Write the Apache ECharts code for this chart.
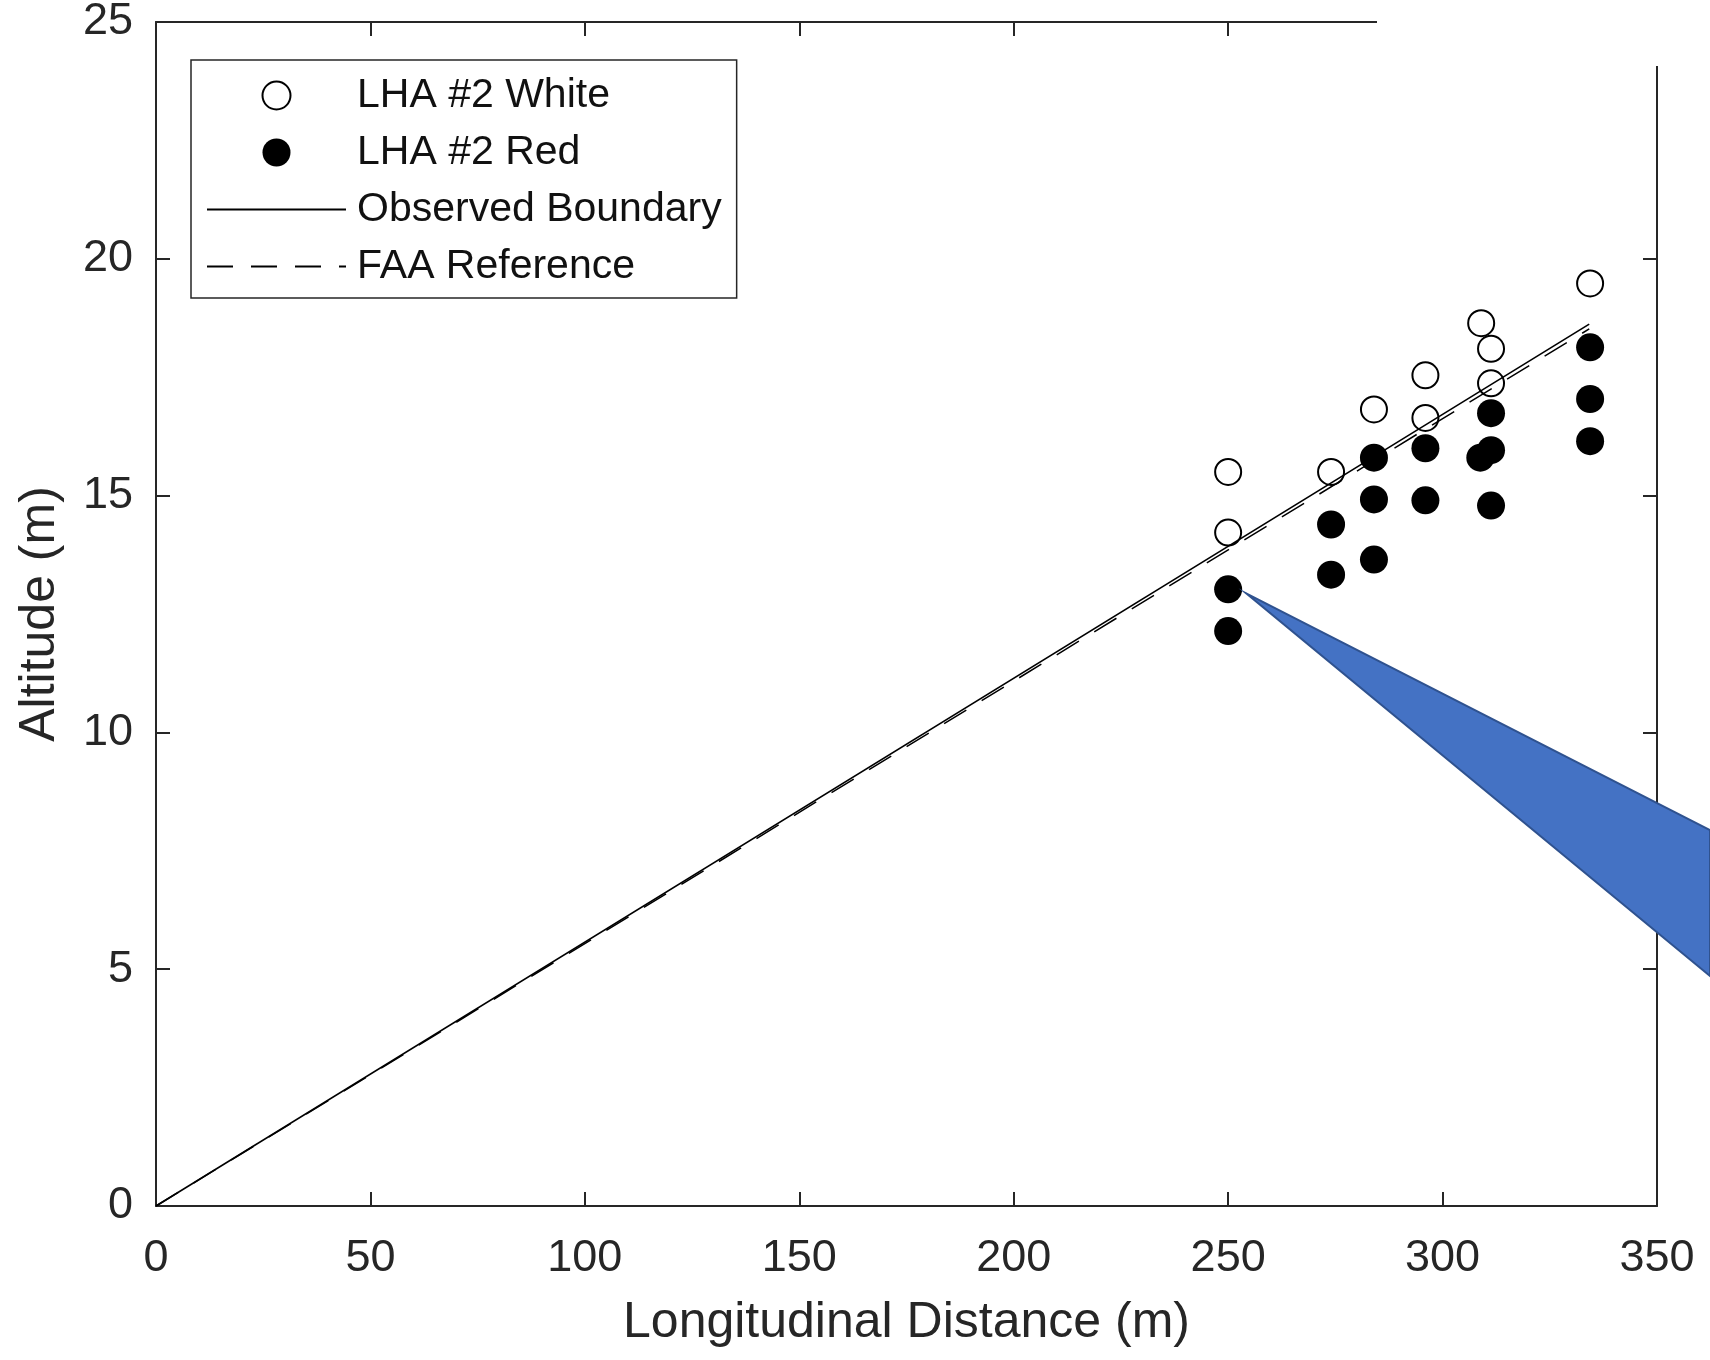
<!DOCTYPE html>
<html>
<head>
<meta charset="utf-8">
<script src="https://cdn.jsdelivr.net/npm/echarts@6/dist/echarts.min.js"></script>
<style>
	html, body { margin: 0; padding: 0; background: #fff; }
	#chart { width: 1710px; height: 1360px; }
</style>
</head>
<body>
<div id="chart"></div>
<script>
var whiteDistance = [250, 250, 274, 284, 296, 296, 309, 311.3, 311.3, 334.4]
var whiteAltitude = [15.5, 14.22, 15.5, 16.82, 17.54, 16.64, 18.64, 18.1, 17.37, 19.48]
var redDistance = [250, 250, 274, 274, 284, 284, 284, 296, 296, 308.8, 311.3, 311.3, 311.3, 334.4, 334.4, 334.4]
var redAltitude = [13.02, 12.14, 14.39, 13.33, 15.8, 14.92, 13.65, 16.0, 14.9, 15.8, 16.74, 15.96, 14.79, 18.13, 17.04, 16.15]

// boundary lines (start and end points)
var boundaryDistance = [0, 334.2]
var observedAltitude = [0, 18.62]
var faaAltitude = [0, 18.52]

var xTicks = { min: 0, max: 350, interval: 50 }
var yTicks = { min: 0, max: 25, interval: 5 }

var FONT = "'Liberation Sans', Arial, Helvetica, sans-serif"
var AXIS_COLOR = '#262626'

function toPairs(xs, ys) {
	var out = []
	for (var i = 0; i < xs.length; i++) out.push([xs[i], ys[i]])
	return out
}

function makeAxis(extra) {
	var base = {
		type: 'value',
		splitLine: { show: false },
		axisLine: { show: true, onZero: false, lineStyle: { color: AXIS_COLOR, width: 2 } },
		axisTick: { show: true, inside: true, length: 14, lineStyle: { color: AXIS_COLOR, width: 2 } },
		axisLabel: { show: false },
	}
	return Object.assign(base, extra)
}

function drawChart(chartDom) {
	var myChart = echarts.init(chartDom)
	// line entries in the legend: no marker, just the stroke
	var noMarker = { opacity: 0, color: 'transparent', borderWidth: 0 }
	var option = {
		animation: false,
		backgroundColor: '#fff',
		grid: { left: 156, right: 53, top: 22, bottom: 154, containLabel: false, outerBoundsMode: 'none' },
		legend: {
			orient: 'vertical',
			left: 191,
			top: 60,
			padding: [15, 15, 11, 15],
			itemGap: 16,
			itemWidth: 139,
			itemHeight: 28,
			backgroundColor: '#fff',
			borderColor: AXIS_COLOR,
			borderWidth: 1.5,
			textStyle: { fontFamily: FONT, fontSize: 41, color: '#111', lineHeight: 40, padding: [0, 0, 0, 6] },
			data: [
				'LHA #2 White',
				'LHA #2 Red',
				{ name: 'Observed Boundary', itemStyle: noMarker },
				{ name: 'FAA Reference', itemStyle: noMarker },
			],
		},
		xAxis: [
			makeAxis(Object.assign({
				position: 'bottom',
				name: 'Longitudinal Distance (m)',
				nameLocation: 'middle',
				nameGap: 92,
				nameTextStyle: { fontFamily: FONT, fontSize: 50, color: AXIS_COLOR, lineHeight: 50 },
				axisLabel: { show: true, margin: 30, fontFamily: FONT, fontSize: 45, color: AXIS_COLOR, lineHeight: 45 },
			}, xTicks)),
			makeAxis(Object.assign({ position: 'top' }, xTicks)),
		],
		yAxis: [
			makeAxis(Object.assign({
				position: 'left',
				name: 'Altitude (m)',
				nameLocation: 'middle',
				nameGap: 91,
				nameTextStyle: { fontFamily: FONT, fontSize: 50, color: AXIS_COLOR, lineHeight: 50 },
				axisLabel: { show: true, margin: 23, fontFamily: FONT, fontSize: 45, color: AXIS_COLOR },
			}, yTicks)),
			makeAxis(Object.assign({ position: 'right' }, yTicks)),
		],
		series: [
			{
				name: 'LHA #2 White',
				type: 'scatter',
				symbol: 'circle',
				symbolSize: 26,
				z: 2,
				itemStyle: { color: '#fff', borderColor: '#000', borderWidth: 2, opacity: 1 },
				data: toPairs(whiteDistance, whiteAltitude),
			},
			{
				name: 'LHA #2 Red',
				type: 'scatter',
				symbol: 'circle',
				symbolSize: 28,
				z: 2,
				itemStyle: { color: '#000', opacity: 1 },
				data: toPairs(redDistance, redAltitude),
			},
			{
				name: 'Observed Boundary',
				type: 'line',
				symbol: 'none',
				z: 3,
				color: '#000',
				lineStyle: { color: '#000', width: 1.5 },
				data: toPairs(boundaryDistance, observedAltitude),
			},
			{
				name: 'FAA Reference',
				type: 'line',
				symbol: 'none',
				z: 3,
				color: '#000',
				lineStyle: { color: '#000', width: 1.5, type: [26, 18] },
				data: toPairs(boundaryDistance, faaAltitude),
			},
		],
	}
	option && myChart.setOption(option)

	// slide overlay: white patch hiding the top-right corner of the box,
	// and the blue callout pointing at the lowest-but-one red point
	var tip = myChart.convertToPixel({ xAxisIndex: 0, yAxisIndex: 0 }, [redDistance[0], redAltitude[0]])
	var w = myChart.getWidth()
	myChart.setOption({
		graphic: [
			{
				type: 'rect',
				z: 100,
				shape: { x: 1377, y: 0, width: w - 1377, height: 66 },
				style: { fill: '#fff' },
			},
			{
				type: 'polygon',
				z: 100,
				shape: { points: [[tip[0] + 18, tip[1] + 4], [w, 830], [w, 976]] },
				style: { fill: '#4472C4', stroke: '#2F528F', lineWidth: 2 },
			},
		],
	})
}

drawChart(document.getElementById('chart'))
</script>
</body>
</html>
